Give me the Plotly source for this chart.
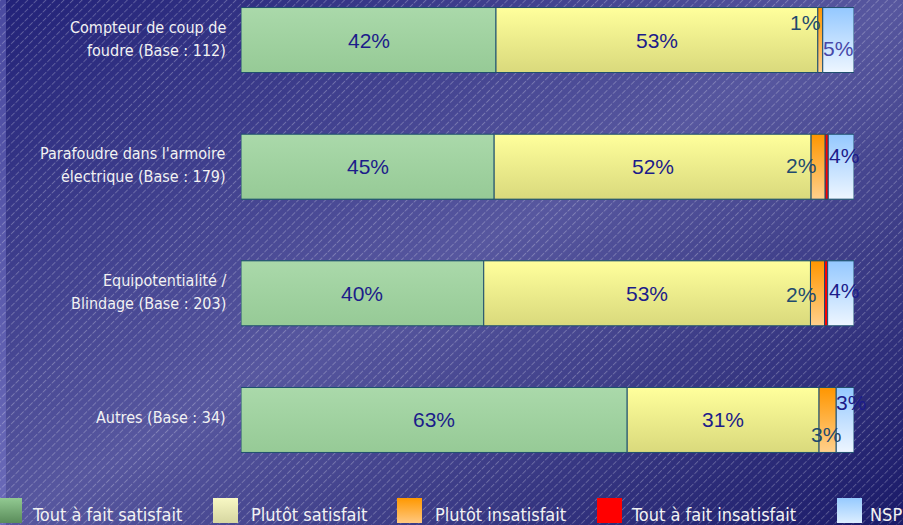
import base64
import plotly.graph_objects as go

# ---------------- data ----------------
cat_line1 = ["Compteur de coup de", "Parafoudre dans l'armoire", "Equipotentialité /", "Autres (Base : 34)"]
cat_line2 = ["foudre (Base : 112)", "électrique (Base : 179)", "Blindage (Base : 203)", ""]

series_names = ["Tout à fait satisfait", "Plutôt satisfait", "Plutôt insatisfait",
                "Tout à fait insatisfait", "NSP"]

tout_satisfait = [41.6, 41.3, 39.6, 63.0]
plutot_satisfait = [52.5, 51.7, 53.3, 31.3]
plutot_insatisfait = [0.8, 2.3, 2.3, 2.8]
tout_insatisfait = [0.0, 0.5, 0.5, 0.0]
nsp = [5.1, 4.2, 4.3, 2.9]

lbl_tout_satisfait = ["42%", "45%", "40%", "63%"]
lbl_plutot_satisfait = ["53%", "52%", "53%", "31%"]
lbl_plutot_insatisfait = ["1%", "2%", "2%", "3%"]
lbl_nsp = ["5%", "4%", "4%", "3%"]

# ---------------- style ----------------
W, H = 903, 525
ML, MR, MT, MB = 241, 49, 0, 55
PW, PH = W - ML - MR, H - MT - MB
BAR_W = 0.513

colors = ["#9dd09d", "#f2f29a", "#ffb03c", "#ff0000", "#c2dffd"]
grad_top = ["#aad9aa", "#ffff9c", "#ff9600", "#ff0000", "#94c8ff"]
grad_bot = ["#96ca96", "#d9d97c", "#ffd08c", "#ff0000", "#eef6ff"]
edge = "#1f4f6f"
lab_font = "Liberation Sans, Arial, sans-serif"
txt_font = "DejaVu Sans Condensed, DejaVu Sans, sans-serif"
navy = "#1c1c8a"


def px2x(p):
    return (p - ML) / PW


def px2y(p):
    return (MT + PH - p) / PH


def svg_uri(s):
    return "data:image/svg+xml;base64," + base64.b64encode(s.encode()).decode()


# background svg (gradient + diagonal hatching)
bg_svg = f'''<svg xmlns="http://www.w3.org/2000/svg" width="{W}" height="{H}" viewBox="0 0 {W} {H}" preserveAspectRatio="none">
<defs>
<linearGradient id="g" x1="0" y1="0" x2="1" y2="1">
<stop offset="0" stop-color="#222278"/>
<stop offset="0.5" stop-color="#57579f"/>
<stop offset="1" stop-color="#1a1a68"/>
</linearGradient>
<linearGradient id="s" x1="0" y1="0" x2="0" y2="1">
<stop offset="0" stop-color="#4a4aa0"/>
<stop offset="1" stop-color="#6a6ab8"/>
</linearGradient>
<pattern id="p" width="6.4" height="6.4" patternUnits="userSpaceOnUse" patternTransform="rotate(45)">
<line x1="0.5" y1="0" x2="0.5" y2="6.4" stroke="#ffffff" stroke-opacity="0.3" stroke-width="0.8" stroke-dasharray="4 1.5"/>
</pattern>
</defs>
<rect width="{W}" height="{H}" fill="url(#g)"/>
<rect width="6" height="{H}" fill="url(#s)"/>
<rect width="{W}" height="{H}" fill="url(#p)"/>
</svg>'''

yvals = list(range(len(cat_line1)))
values = [tout_satisfait, plutot_satisfait, plutot_insatisfait, tout_insatisfait, nsp]

fig = go.Figure()
# base stacked bars
for name, vals, col in zip(series_names, values, colors):
    fig.add_trace(go.Bar(
        y=yvals, x=vals, orientation="h", name=name,
        marker=dict(color=col, line=dict(color=edge, width=1)),
        width=BAR_W, hoverinfo="skip", showlegend=False,
    ))

# gradient overlay for each stacked segment (computed from the same data)
for i, yv in enumerate(yvals):
    left = 0.0
    for s, vals in enumerate(values):
        v = vals[i]
        if v <= 0:
            continue
        x0, x1 = left, left + v
        y0, y1 = yv - BAR_W / 2, yv + BAR_W / 2
        fig.add_trace(go.Scatter(
            x=[x0, x1, x1, x0, x0], y=[y0, y0, y1, y1, y0],
            mode="lines", fill="toself",
            line=dict(color=edge, width=1),
            fillgradient=dict(type="vertical", start=y0, stop=y1,
                              colorscale=[[0, grad_top[s]], [1, grad_bot[s]]]),
            hoverinfo="skip", showlegend=False,
        ))
        left = x1

annotations = []
# main segment labels
for i in range(len(yvals)):
    annotations.append(dict(x=tout_satisfait[i] / 2, y=yvals[i], xref="x", yref="y",
                            text=lbl_tout_satisfait[i], showarrow=False,
                            font=dict(family=lab_font, size=21, color=navy)))
    annotations.append(dict(x=tout_satisfait[i] + plutot_satisfait[i] / 2, y=yvals[i],
                            xref="x", yref="y", text=lbl_plutot_satisfait[i], showarrow=False,
                            font=dict(family=lab_font, size=21, color=navy)))

# small-segment labels
for i in range(len(yvals)):
    left_or = tout_satisfait[i] + plutot_satisfait[i]
    or_center = left_or + plutot_insatisfait[i] / 2
    nsp_left = left_or + plutot_insatisfait[i] + tout_insatisfait[i]
    nsp_center = nsp_left + nsp[i] / 2
    or_shift = [(-15, 18), (-17, 1), (-17, -1), (-2, -15)][i]
    nsp_shift = [(0, -8), (3, 11), (3, 3), (6, 17)][i]
    nsp_col = ["#4848a8", navy, navy, navy][i]
    annotations.append(dict(x=or_center, y=yvals[i], xref="x", yref="y",
                            text=lbl_plutot_insatisfait[i], showarrow=False,
                            xshift=or_shift[0], yshift=or_shift[1],
                            font=dict(family=lab_font, size=21, color="#1f4a6e")))
    annotations.append(dict(x=nsp_center, y=yvals[i], xref="x", yref="y",
                            text=lbl_nsp[i], showarrow=False,
                            xshift=nsp_shift[0], yshift=nsp_shift[1],
                            font=dict(family=lab_font, size=21, color=nsp_col)))

# category labels
for i in range(len(yvals)):
    if cat_line2[i]:
        lines = [(cat_line1[i], 13), (cat_line2[i], -10)]
    else:
        lines = [(cat_line1[i], 2)]
    for t, ys in lines:
        annotations.append(dict(x=px2x(228), y=yvals[i], xref="paper", yref="y",
                                text=t, showarrow=False, xanchor="right",
                                yshift=ys,
                                font=dict(family=txt_font, size=16, color="#f2f2f2")))

# legend (manual, gradient swatches)
leg_sq = [(-3, 22), (213, 238), (397, 422), (597, 622), (837, 862)]
leg_tx = [30, 249, 433, 629, 868]
leg_top = ["#92ca92", "#f8f8c4", "#ff9800", "#ff0000", "#96caff"]
leg_bot = ["#5a8c5a", "#d6d6a0", "#ffc880", "#ff0000", "#dceeff"]
images = [dict(source=svg_uri(bg_svg), xref="paper", yref="paper",
               x=px2x(0), y=px2y(0), sizex=W / PW, sizey=H / PH,
               xanchor="left", yanchor="top", sizing="stretch", layer="below")]
for (a, b), tx, ct, cb, name in zip(leg_sq, leg_tx, leg_top, leg_bot, series_names):
    sw = f'''<svg xmlns="http://www.w3.org/2000/svg" width="25" height="25" viewBox="0 0 25 25" preserveAspectRatio="none">
<defs><linearGradient id="l" x1="0" y1="0" x2="0" y2="1">
<stop offset="0" stop-color="{ct}"/><stop offset="1" stop-color="{cb}"/></linearGradient></defs>
<rect width="25" height="25" fill="url(#l)"/></svg>'''
    images.append(dict(source=svg_uri(sw), xref="paper", yref="paper",
                       x=px2x(a), y=px2y(498), sizex=(b - a) / PW, sizey=25 / PH,
                       xanchor="left", yanchor="top", sizing="stretch", layer="above"))
    annotations.append(dict(x=px2x(tx), y=px2y(514), xref="paper", yref="paper",
                            text=name, showarrow=False, xanchor="left", yanchor="middle",
                            font=dict(family=txt_font, size=18, color="#f2f2f2")))

fig.update_layout(
    width=W, height=H,
    margin=dict(l=ML, r=MR, t=MT, b=MB, pad=0),
    barmode="stack",
    paper_bgcolor="#3c3c8c", plot_bgcolor="rgba(0,0,0,0)",
    xaxis=dict(range=[0, 100], visible=False, fixedrange=True),
    yaxis=dict(range=[3.395, -0.316], visible=False, fixedrange=True),
    showlegend=False,
    annotations=annotations,
    images=images,
)

fig.write_html("out.html", config={"displayModeBar": False},
               post_script="document.body.style.margin='0';document.body.style.overflow='hidden';")
